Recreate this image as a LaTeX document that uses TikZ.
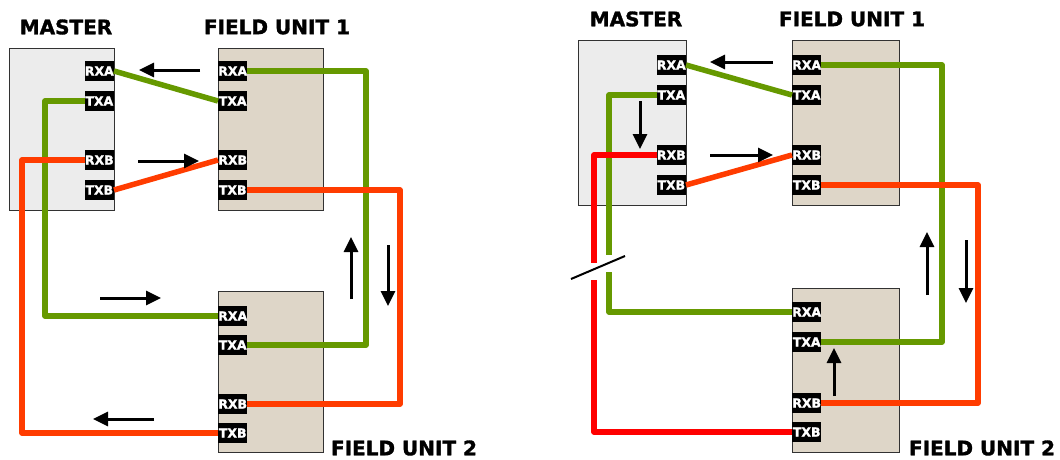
\documentclass[tikz,border=0pt]{standalone}
\usepackage{fontspec}
\setmainfont{DejaVu Sans}
\newfontfamily\heavyfont[BoldFeatures={FakeBold=1.6}]{DejaVu Sans}
\usetikzlibrary{arrows.meta}
\definecolor{cgreen}{RGB}{102,153,0}
\definecolor{corange}{RGB}{255,60,0}
\definecolor{cred}{RGB}{255,0,0}
\definecolor{mfill}{RGB}{236,236,236}
\definecolor{ffill}{RGB}{222,214,200}
\definecolor{bord}{RGB}{50,50,50}
\tikzset{
  unitbox/.style={draw=bord, line width=1pt, minimum width=#1, inner sep=0pt},
  port/.style={fill=black, text=white, font=\heavyfont\bfseries\fontsize{12.5}{12.5}\selectfont,
    minimum width=29pt, minimum height=20pt, inner sep=0pt},
  title/.style={font=\heavyfont\bfseries\fontsize{20}{20}\selectfont, inner sep=0pt},
  cable/.style={line width=5.5pt, line join=round},
  ga/.style={cable, draw=cgreen},
  rb/.style={cable, draw=corange},
  rr/.style={cable, draw=cred},
  flow/.style={-{Triangle[length=15pt,width=14pt]}, line width=3pt},
  cut/.style={line width=2pt}
}
\begin{document}
\begin{tikzpicture}[x=1pt,y=-1pt]
\useasboundingbox (0,0) rectangle (1060,459);
% ---------------- LEFT DIAGRAM ----------------
\node[title] (tM1) at (66,27) {MASTER};
\node[title] (tF11) at (277,27) {FIELD UNIT 1};
\node[title] (tF21) at (404,448) {FIELD UNIT 2};
\node[unitbox=105pt, fill=mfill, minimum height=162pt] (M1) at (61.5,129) {};
\node[unitbox=105pt, fill=ffill, minimum height=162pt] (F11) at (270.5,129) {};
\node[unitbox=105pt, fill=ffill, minimum height=161pt] (F21) at (270.5,371.5) {};
\coordinate (L1ga) at (45,0);
\coordinate (L1gb) at (366,0);
\coordinate (L1ra) at (22,0);
\coordinate (L1rb) at (400,0);
\path
  node[port, anchor=east] (M1rxa) at (114,71) {RXA}
  node[port, anchor=east] (M1txa) at (114,101) {TXA}
  node[port, anchor=east] (M1rxb) at (114,160) {RXB}
  node[port, anchor=east] (M1txb) at (114,190) {TXB}
  node[port, anchor=west] (F11rxa) at (218,71) {RXA}
  node[port, anchor=west] (F11txa) at (218,101) {TXA}
  node[port, anchor=west] (F11rxb) at (218,160) {RXB}
  node[port, anchor=west] (F11txb) at (218,190) {TXB}
  node[port, anchor=west] (F21rxa) at (218,316) {RXA}
  node[port, anchor=west] (F21txa) at (218,345) {TXA}
  node[port, anchor=west] (F21rxb) at (218,404) {RXB}
  node[port, anchor=west] (F21txb) at (218,433) {TXB};
\draw[ga] (M1rxa.east) -- (F11txa.west);
\draw[ga] (F11rxa.east) -| (L1gb |- F21txa.east) -- (F21txa.east);
\draw[ga] (M1txa.west) -| (L1ga |- F21rxa.west) -- (F21rxa.west);
\draw[rb] (M1txb.east) -- (F11rxb.west);
\draw[rb] (F11txb.east) -| (L1rb |- F21rxb.east) -- (F21rxb.east);
\draw[rb] (M1rxb.west) -| (L1ra |- F21txb.west) -- (F21txb.west);
\coordinate (a1s) at (200,70); \coordinate (a1e) at (139,70);
\coordinate (a2s) at (138,161); \coordinate (a2e) at (199,161);
\coordinate (a3s) at (100,298); \coordinate (a3e) at (161,298);
\coordinate (a4s) at (154,419); \coordinate (a4e) at (93,419);
\coordinate (a5s) at (351,299); \coordinate (a5e) at (351,237);
\coordinate (a6s) at (388,245); \coordinate (a6e) at (388,306);
\draw[flow] (a1s) -- (a1e);
\draw[flow] (a2s) -- (a2e);
\draw[flow] (a3s) -- (a3e);
\draw[flow] (a4s) -- (a4e);
\draw[flow] (a5s) -- (a5e);
\draw[flow] (a6s) -- (a6e);
% ---------------- RIGHT DIAGRAM ----------------
\node[title] (tM2) at (636,19) {MASTER};
\node[title] (tF12) at (852,19) {FIELD UNIT 1};
\node[title] (tF22) at (982,448) {FIELD UNIT 2};
\node[unitbox=108pt, fill=mfill, minimum height=165pt] (M2) at (632,122.5) {};
\node[unitbox=107pt, fill=ffill, minimum height=165pt] (F12) at (845.5,122.5) {};
\node[unitbox=107pt, fill=ffill, minimum height=164pt] (F22) at (845.5,370) {};
\coordinate (R2gb) at (942,0);
\coordinate (R2rb) at (978,0);
\coordinate (g1) at (609,255);
\coordinate (g2) at (609,272);
\coordinate (r1) at (594,263);
\coordinate (r2) at (594,280);
\coordinate (s1) at (571,279);
\coordinate (s2) at (625,256);
\path
  node[port, anchor=east] (M2rxa) at (686,65) {RXA}
  node[port, anchor=east] (M2txa) at (686,95) {TXA}
  node[port, anchor=east] (M2rxb) at (686,155) {RXB}
  node[port, anchor=east] (M2txb) at (686,185) {TXB}
  node[port, anchor=west] (F12rxa) at (792,65) {RXA}
  node[port, anchor=west] (F12txa) at (792,95) {TXA}
  node[port, anchor=west] (F12rxb) at (792,155) {RXB}
  node[port, anchor=west] (F12txb) at (792,185) {TXB}
  node[port, anchor=west] (F22rxa) at (792,312) {RXA}
  node[port, anchor=west] (F22txa) at (792,342) {TXA}
  node[port, anchor=west] (F22rxb) at (792,403) {RXB}
  node[port, anchor=west] (F22txb) at (792,432) {TXB};
\draw[ga] (M2rxa.east) -- (F12txa.west);
\draw[ga] (F12rxa.east) -| (R2gb |- F22txa.east) -- (F22txa.east);
\draw[ga] (M2txa.west) -| (g1);
\draw[ga] (g2) |- (F22rxa.west);
\draw[rb] (M2txb.east) -- (F12rxb.west);
\draw[rb] (F12txb.east) -| (R2rb |- F22rxb.east) -- (F22rxb.east);
\draw[rr] (M2rxb.west) -| (r1);
\draw[rr] (r2) |- (F22txb.west);
\draw[cut] (s1) -- (s2);
\coordinate (b1s) at (773,62); \coordinate (b1e) at (710,62);
\coordinate (b2s) at (640,101); \coordinate (b2e) at (640,149);
\coordinate (b3s) at (710,155); \coordinate (b3e) at (773,155);
\coordinate (b4s) at (927,295); \coordinate (b4e) at (927,232);
\coordinate (b5s) at (966,240); \coordinate (b5e) at (966,303);
\coordinate (b6s) at (834,396); \coordinate (b6e) at (834,348);
\draw[flow] (b1s) -- (b1e);
\draw[flow] (b2s) -- (b2e);
\draw[flow] (b3s) -- (b3e);
\draw[flow] (b4s) -- (b4e);
\draw[flow] (b5s) -- (b5e);
\draw[flow] (b6s) -- (b6e);
\end{tikzpicture}
\end{document}
